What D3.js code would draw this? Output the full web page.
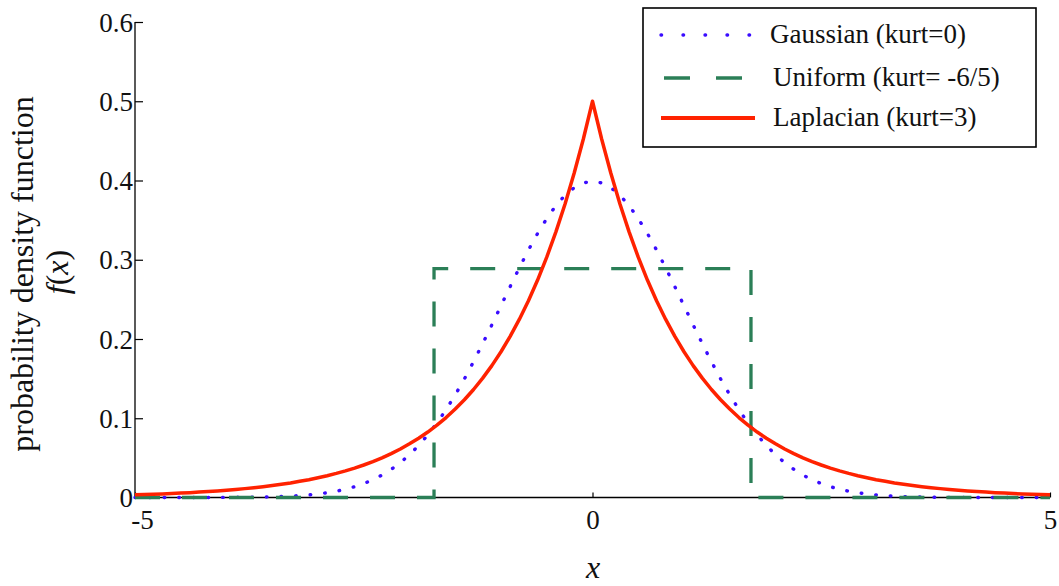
<!DOCTYPE html>
<html><head><meta charset="utf-8">
<script src="https://cdn.jsdelivr.net/npm/d3@7"></script>
<style>body{margin:0;background:#fff}svg{display:block}svg text{font-family:"Liberation Serif","Times New Roman",serif !important;fill:#111}</style>
</head><body>
<svg id="c" width="1059" height="586"></svg>
<script>
// x samples (step 0.1 from -5 to 5)
const xs = [-5,-4.9,-4.8,-4.7,-4.6,-4.5,-4.4,-4.3,-4.2,-4.1,-4,-3.9,-3.8,-3.7,-3.6,-3.5,-3.4,-3.3,-3.2,-3.1,-3,-2.9,-2.8,-2.7,-2.6,-2.5,-2.4,-2.3,-2.2,-2.1,-2,-1.9,-1.8,-1.7,-1.6,-1.5,-1.4,-1.3,-1.2,-1.1,-1,-0.9,-0.8,-0.7,-0.6,-0.5,-0.4,-0.3,-0.2,-0.1,0,0.1,0.2,0.3,0.4,0.5,0.6,0.7,0.8,0.9,1,1.1,1.2,1.3,1.4,1.5,1.6,1.7,1.8,1.9,2,2.1,2.2,2.3,2.4,2.5,2.6,2.7,2.8,2.9,3,3.1,3.2,3.3,3.4,3.5,3.6,3.7,3.8,3.9,4,4.1,4.2,4.3,4.4,4.5,4.6,4.7,4.8,4.9,5];
const gaussian = [0,0,0,0,0,0,0,0,0,0.0001,0.0001,0.0002,0.0003,0.0004,0.0006,0.0009,0.0012,0.0017,0.0024,0.0033,0.0044,0.0060,0.0079,0.0104,0.0136,0.0175,0.0224,0.0283,0.0355,0.0440,0.0540,0.0656,0.0790,0.0940,0.1109,0.1295,0.1497,0.1714,0.1942,0.2179,0.2420,0.2661,0.2897,0.3123,0.3332,0.3521,0.3683,0.3814,0.3910,0.3970,0.3989,0.3970,0.3910,0.3814,0.3683,0.3521,0.3332,0.3123,0.2897,0.2661,0.2420,0.2179,0.1942,0.1714,0.1497,0.1295,0.1109,0.0940,0.0790,0.0656,0.0540,0.0440,0.0355,0.0283,0.0224,0.0175,0.0136,0.0104,0.0079,0.0060,0.0044,0.0033,0.0024,0.0017,0.0012,0.0009,0.0006,0.0004,0.0003,0.0002,0.0001,0.0001,0,0,0,0,0,0,0,0,0];
const laplacian = [0.0034,0.0037,0.0041,0.0045,0.0050,0.0056,0.0061,0.0068,0.0075,0.0083,0.0092,0.0101,0.0112,0.0124,0.0137,0.0151,0.0167,0.0184,0.0204,0.0225,0.0249,0.0275,0.0304,0.0336,0.0371,0.0410,0.0454,0.0501,0.0554,0.0612,0.0677,0.0748,0.0826,0.0913,0.1009,0.1116,0.1233,0.1363,0.1506,0.1664,0.1839,0.2033,0.2247,0.2483,0.2744,0.3033,0.3352,0.3704,0.4094,0.4524,0.5,0.4524,0.4094,0.3704,0.3352,0.3033,0.2744,0.2483,0.2247,0.2033,0.1839,0.1664,0.1506,0.1363,0.1233,0.1116,0.1009,0.0913,0.0826,0.0748,0.0677,0.0612,0.0554,0.0501,0.0454,0.0410,0.0371,0.0336,0.0304,0.0275,0.0249,0.0225,0.0204,0.0184,0.0167,0.0151,0.0137,0.0124,0.0112,0.0101,0.0092,0.0083,0.0075,0.0068,0.0061,0.0056,0.0050,0.0045,0.0041,0.0037,0.0034];
const uniformX = [-5,-1.732,-1.732,1.732,1.732,5];
const uniformY = [0,0,0.2887,0.2887,0,0];
const xTicks = [-5,0,5];
const xTickLabels = ["-5","0","5"];
const yTicks = [0,0.1,0.2,0.3,0.4,0.5,0.6];
const yTickLabels = ["0","0.1","0.2","0.3","0.4","0.5","0.6"];
const legendLabels = ["Gaussian (kurt=0)","Uniform (kurt= -6/5)","Laplacian (kurt=3)"];

const svg = d3.select("#c");
const L=135, R=1050, T=22, B=497.5;
const x = d3.scaleLinear().domain([-5,5]).range([L,R]);
const y = d3.scaleLinear().domain([0,0.6]).range([B,T]);

const cBlue="#3a0cff", cGreen="#2b7f57", cRed="#ff2200";

const line = d3.line().x(d=>x(d[0])).y(d=>y(d[1]));
const gPts = xs.map((v,i)=>[v,gaussian[i]]);
const uPts = uniformX.map((v,i)=>[v,uniformY[i]]);
const lPts = xs.map((v,i)=>[v,laplacian[i]]);

// axes
const xAxis = d3.axisBottom(x).tickValues(xTicks).tickSize(-5).tickPadding(0).tickFormat((d,i)=>xTickLabels[i]);
const gx = svg.append("g").attr("transform",`translate(0,${B})`).call(xAxis)
  .attr("font-family",null).attr("font-size",null);
gx.select(".domain").attr("d",`M${L},0H${R}`).attr("stroke","#000").attr("stroke-width",1.3);
gx.selectAll(".tick line").attr("stroke","#000").attr("stroke-width",1.2);
gx.selectAll(".tick text").attr("y",31).attr("dy",null).attr("dx",(d,i)=>i===0?7:0).style("font-size","27px").attr("fill","#111");

const yAxis = d3.axisLeft(y).tickValues(yTicks).tickSize(-8).tickPadding(0).tickFormat((d,i)=>yTickLabels[i]);
const gy = svg.append("g").attr("transform",`translate(${L},0)`).call(yAxis)
  .attr("font-family",null).attr("font-size",null);
gy.select(".domain").attr("d",`M0,${T}V${B}`).attr("stroke","#000").attr("stroke-width",1.3);
gy.selectAll(".tick line").attr("stroke","#000").attr("stroke-width",1.2);
gy.selectAll(".tick text").attr("x",-2).attr("dy","0.34em").style("font-size","27px").attr("fill","#111");

// curves
svg.append("path").datum(gPts).attr("d",line).attr("fill","none").attr("stroke",cBlue)
  .attr("stroke-width",3.4).attr("stroke-linecap","round").attr("stroke-dasharray","0.6,14");
svg.append("path").datum(uPts).attr("d",line).attr("fill","none").attr("stroke",cGreen)
  .attr("stroke-width",3.3).attr("stroke-dasharray","25,22");
svg.append("path").datum(lPts).attr("d",line).attr("fill","none").attr("stroke",cRed)
  .attr("stroke-width",3.5).attr("stroke-linejoin","round");

// legend
const lg = svg.append("g");
lg.append("rect").attr("x",643).attr("y",8).attr("width",393).attr("height",139)
  .attr("fill","#fff").attr("stroke","#000").attr("stroke-width",1.6);
const rows=[35,78,118];
const styles=[
  {c:cBlue,w:3.4,da:"0.6,21.4",cap:"round",x1:661},
  {c:cGreen,w:3.3,da:"26,26",cap:"butt",x1:664},
  {c:cRed,w:4,da:null,cap:"butt",x1:661}];
const textX=[770,773,773];
legendLabels.forEach((t,i)=>{
  lg.append("line").attr("x1",styles[i].x1).attr("x2",755).attr("y1",rows[i]).attr("y2",rows[i])
    .attr("stroke",styles[i].c).attr("stroke-width",styles[i].w).attr("stroke-linecap",styles[i].cap)
    .attr("stroke-dasharray",styles[i].da);
  lg.append("text").attr("x",textX[i]).attr("y",rows[i]+8).style("font-size","27px").text(t);
});

// axis labels
svg.append("text").attr("x",593).attr("y",578).attr("text-anchor","middle")
  .style("font-size","32px").style("font-style","italic").text("x");
svg.append("text").attr("transform","translate(33,274) rotate(-90)").attr("text-anchor","middle")
  .style("font-size","32px").text("probability density function");
const yl2 = svg.append("text").attr("transform","translate(68,272) rotate(-90)").attr("text-anchor","middle").style("font-size","32px");
yl2.append("tspan").style("font-style","italic").text("f");
yl2.append("tspan").text("(");
yl2.append("tspan").style("font-style","italic").text("x");
yl2.append("tspan").text(")");
</script>
</body></html>
